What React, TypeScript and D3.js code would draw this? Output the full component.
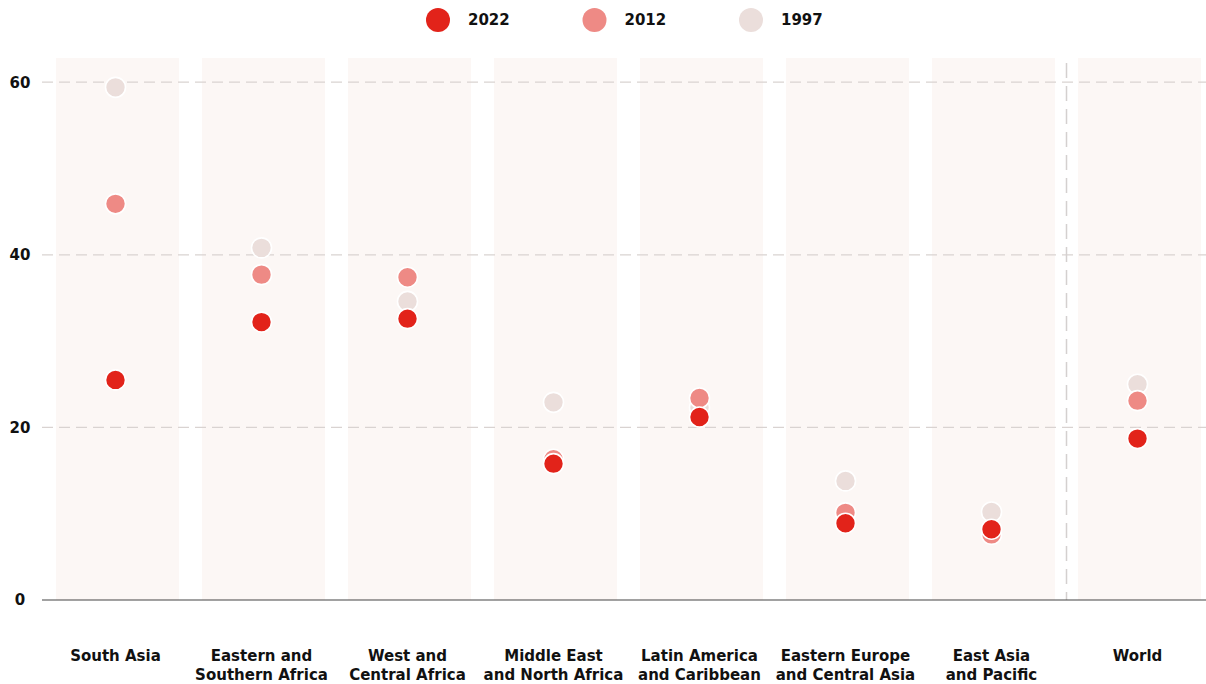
import React from "react";
import * as d3 from "d3";

const regions = [
  ["South Asia"],
  ["Eastern and", "Southern Africa"],
  ["West and", "Central Africa"],
  ["Middle East", "and North Africa"],
  ["Latin America", "and Caribbean"],
  ["Eastern Europe", "and Central Asia"],
  ["East Asia", "and Pacific"],
  ["World"],
];
const years = ["1997", "2012", "2022"];
const values1997 = [59.4, 40.8, 34.6, 22.9, 22.3, 13.8, 10.2, 25.0];
const values2012 = [45.9, 37.7, 37.4, 16.3, 23.4, 10.1, 7.6, 23.1];
const values2022 = [25.5, 32.2, 32.6, 15.8, 21.2, 8.9, 8.2, 18.7];
const yTicks = [0, 20, 40, 60];
const legendYears = ["2022", "2012", "1997"];

const colors: Record<string, string> = {
  "2022": "#e2231a",
  "2012": "#ee8a85",
  "1997": "#ebdedb",
};

const W = 1206;
const H = 684;
const FONT = "'DejaVu Sans', sans-serif";

export default function App() {
  const keys = regions.map((r) => r.join(" "));
  const x = d3.scaleBand<string>().domain(keys).range([44.5, 1212.5]).paddingInner(0.158).paddingOuter(0.079);
  // dot column positions sit slightly left of the shaded band centres
  const xp = d3.scalePoint<string>().domain(keys).range([115.5, 1137.5]);
  const y = d3.scaleLinear().domain([0, 62.8]).range([600, 58]);
  const series: Record<string, number[]> = {
    "1997": values1997,
    "2012": values2012,
    "2022": values2022,
  };
  const legendX = d3.scalePoint<string>().domain(legendYears).range([438, 751]);
  const cx = (i: number) => xp(keys[i]) as number;
  const lastX = x(keys[keys.length - 1]) as number;
  const prevEnd = (x(keys[keys.length - 2]) as number) + x.bandwidth();
  const dividerX = (lastX + prevEnd) / 2;

  return (
    <svg width={W} height={H} style={{ display: "block", position: "absolute", left: 0, top: 0 }} fontFamily={FONT}>
      <rect width={W} height={H} fill="#fff" />
      {keys.map((k) => (
        <rect key={k} x={x(k)} y={y(62.8)} width={x.bandwidth()} height={y(0) - y(62.8)} fill="#fcf7f5" />
      ))}
      {yTicks.filter((t) => t > 0).map((t) => (
        <line key={t} x1={42} x2={W} y1={y(t)} y2={y(t)} stroke="#d9d3d1" strokeWidth={1.3} strokeDasharray="11 6" />
      ))}
      <line x1={dividerX} x2={dividerX} y1={y(62.8) + 5} y2={y(0)} stroke="#d4d0cf" strokeWidth={1.5} strokeDasharray="15 8" />
      <line x1={42} x2={W} y1={y(0)} y2={y(0)} stroke="#444" strokeWidth={1.2} />
      {yTicks.map((t) => (
        <text key={t} x={20} y={y(t)} dy="0.36em" textAnchor="middle" fontSize={15} fontWeight={700} fill="#111">
          {t}
        </text>
      ))}
      {years.map((yr) =>
        series[yr].map((v, i) => (
          <circle key={yr + i} cx={cx(i)} cy={y(v)} r={10} fill={colors[yr]} stroke="#fff" strokeWidth={1.6} />
        ))
      )}
      {regions.map((lines, i) => (
        <text key={i} x={cx(i)} y={661} textAnchor="middle" fontSize={15} fontWeight={700} fill="#111">
          {lines.map((l, j) => (
            <tspan key={j} x={cx(i)} dy={j === 0 ? 0 : 19}>
              {l}
            </tspan>
          ))}
        </text>
      ))}
      {legendYears.map((yr) => (
        <g key={yr}>
          <circle cx={legendX(yr)} cy={20} r={12} fill={colors[yr]} />
          <text x={(legendX(yr) as number) + 30} y={20} dy="0.36em" fontSize={15} fontWeight={700} fill="#111">
            {yr}
          </text>
        </g>
      ))}
    </svg>
  );
}
